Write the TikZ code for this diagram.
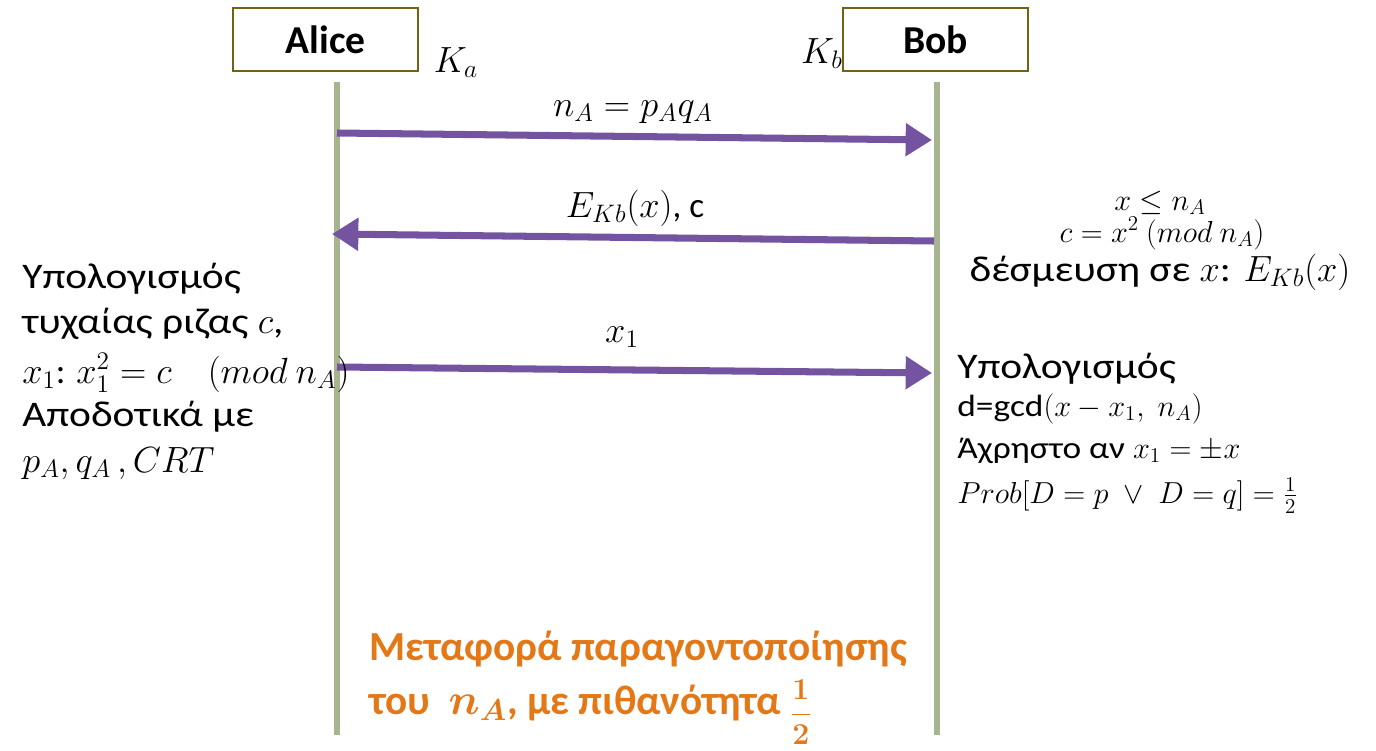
\documentclass[tikz,border=0pt]{standalone}
\usepackage{amsmath}
\usepackage{amssymb}
\usepackage{fontspec}
\setmainfont{Carlito}
\newfontfamily\greekwide[FakeStretch=1.15]{Carlito}
\usepackage{tikz}
\usetikzlibrary{arrows.meta}

\definecolor{msgpurple}{RGB}{116,84,161}
\definecolor{lifegreen}{RGB}{166,180,143}
\definecolor{boxolive}{RGB}{112,100,20}
\definecolor{factorange}{RGB}{228,120,22}

\begin{document}
\begin{tikzpicture}[x=0.2mm, y=-0.2mm,
		party/.style={draw=boxolive, line width=1.2pt, minimum width=37mm, minimum height=12.6mm, inner sep=0pt, font=\bfseries\fontsize{22.5}{26}\selectfont},
		lifeline/.style={draw=lifegreen, line width=3.4pt},
		msg/.style={draw=msgpurple, line width=4pt, -{Triangle[length=15pt, width=18pt]}},
		lbl/.style={inner sep=0pt, font=\fontsize{20}{24}\selectfont},
		small/.style={inner sep=0pt, font=\fontsize{17.5}{21}\selectfont},
		note/.style={inner sep=0pt, font=\greekwide\fontsize{20.5}{25}\selectfont},
		notemath/.style={inner sep=0pt, font=\fontsize{20.5}{25}\selectfont},
		tiny/.style={inner sep=0pt, font=\greekwide\fontsize{17.5}{21}\selectfont},
		result/.style={inner sep=0pt, text=factorange, font=\bfseries\boldmath\fontsize{23.5}{28}\selectfont}]
			\useasboundingbox (0,0) rectangle (1376,750);
			% Nodes
			\node[party] (alice) at (325.5,39.5) {Alice};
			\node[party] (bob) at (935.5,39.5) {Bob};
			\node[lbl, anchor=base] (ka) at (456,72) {$K_a$};
			\node[lbl, anchor=base] (kb) at (822,63) {$K_b$};
			% Lifelines
			\foreach \who/\x in {alice/337, bob/937} {
				\coordinate (\who top) at (\x,82);
				\coordinate (\who bot) at (\x,735);
				\draw[lifeline] (\who top) -- (\who bot);
			}
			% Messages
			\coordinate (m1a) at (337,133);
			\coordinate (m1b) at (932,140);
			\coordinate (m2a) at (934,241);
			\coordinate (m2b) at (332,234);
			\coordinate (m3a) at (337,367);
			\coordinate (m3b) at (932,373);
			\draw[msg] (m1a) -- (m1b);
			\draw[msg] (m2a) -- (m2b);
			\draw[msg] (m3a) -- (m3b);
			\node[lbl, anchor=base] (m1lbl) at (633,116) {$n_A = p_A q_A$};
			\node[lbl, anchor=base] (m2lbl) at (635,217) {$E_{Kb}(x)$, c};
			\node[lbl, anchor=base] (m3lbl) at (622,342) {$x_1$};
			% Alice side
			\node[note, anchor=base west] (al1) at (22,288) {Υπολογισμός};
			\node[note, anchor=base west] (al2) at (22,333) {τυχαίας ριζας $c$,};
			\node[notemath, anchor=base west] (al3) at (22,383) {$x_1$: $x_1^2 = c \quad (mod\ n_A)$};
			\node[note, anchor=base west] (al4) at (22,426) {Αποδοτικά με};
			\node[notemath, anchor=base west] (al5) at (22,472) {$p_A, q_A\,, CRT$};
			% Bob side
			\node[small, anchor=base] (bc1) at (1160,210) {$x \leq n_A$};
			\node[small, anchor=base] (bc2) at (1162,242) {$c = x^2\ (mod\ n_A)$};
			\node[note, anchor=base] (bc3) at (1160,281) {δέσμευση σε $x$: $E_{Kb}(x)$};
			\node[note, anchor=base west] (bd1) at (957,378) {Υπολογισμός};
			\node[tiny, anchor=base west] (bd2) at (957,416) {d=gcd$(x - x_1,\ n_A)$};
			\node[tiny, anchor=base west] (bd3) at (957,458) {Άχρηστο αν $x_1 = \pm x$};
			\node[tiny, anchor=base west] (bd4) at (957,503) {$Prob[D = p\ \vee\ D = q] = \frac{1}{2}$};
			% Outcome
			\node[result, anchor=base west] (res1) at (369,660) {Μεταφορά παραγοντοποίησης};
			\node[result, anchor=base west] (res2) at (369,714) {του \ $n_A$, με πιθανότητα \raisebox{-4.5pt}{\fontsize{16}{18}\selectfont$\dfrac{1}{2}$}};
		\end{tikzpicture}
\end{document}
